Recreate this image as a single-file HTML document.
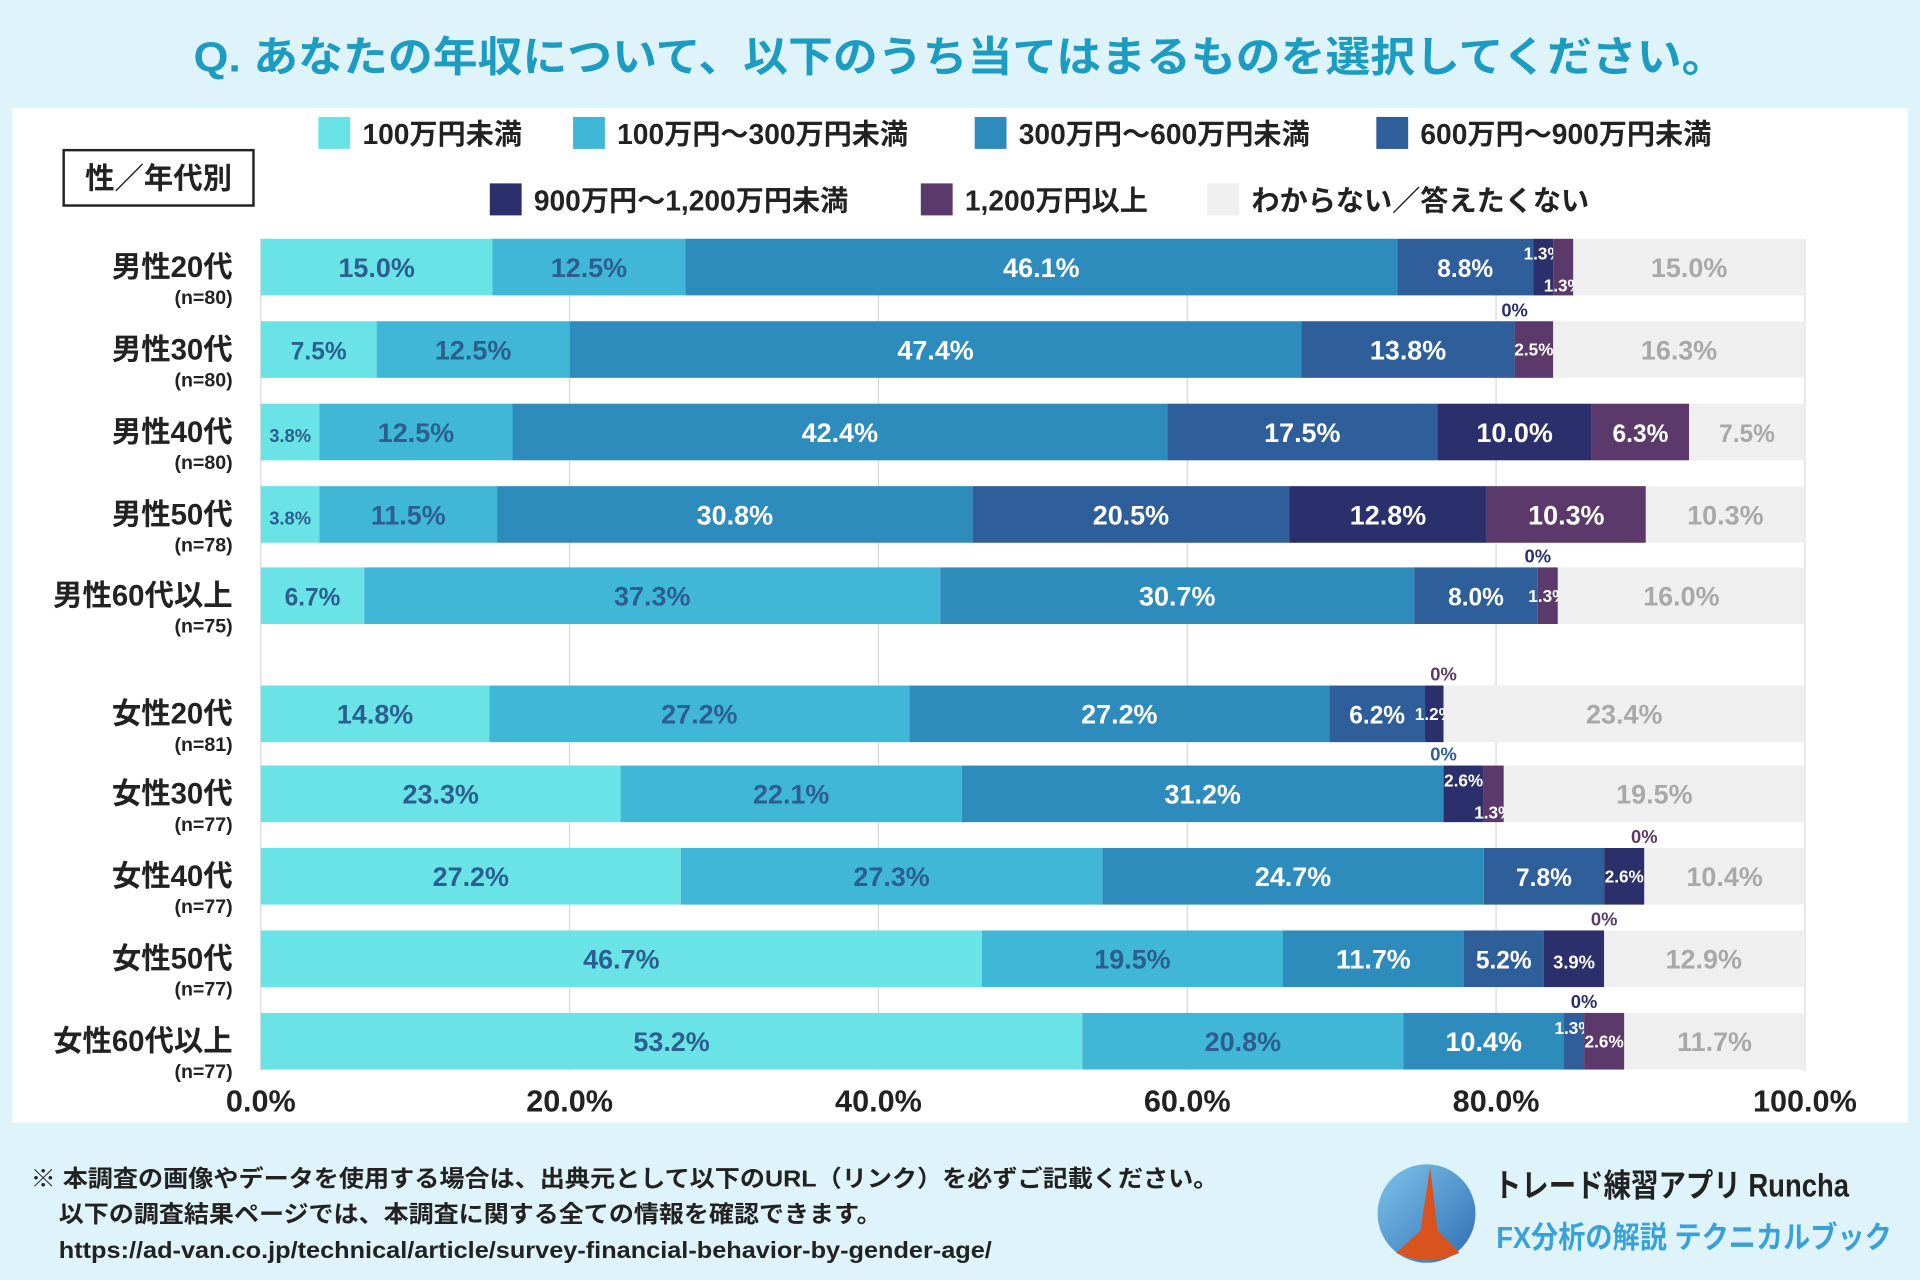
<!DOCTYPE html>
<html><head><meta charset="utf-8">
<style>
html,body{margin:0;padding:0;background:#dff4fa;}
svg{display:block;}
text{font-family:"Liberation Sans","Noto Sans CJK JP",sans-serif;}
</style></head>
<body>
<svg id="chart" width="1920" height="1280" viewBox="0 0 1568 1040" preserveAspectRatio="none" xmlns="http://www.w3.org/2000/svg">
<rect x="0" y="0" width="1568" height="1040" fill="#dff4fa"/>
<text x="158" y="58" textLength="1252" lengthAdjust="spacingAndGlyphs" font-size="34" font-weight="bold" fill="#1b9cc0">Q. あなたの年収について、以下のうち当てはまるものを選択してください。</text>
<rect x="10" y="88" width="1548" height="824" fill="#ffffff"/>
<g>
<rect x="52" y="122" width="155" height="45" fill="#fff" stroke="#222" stroke-width="2"/>
<text x="129.5" y="153" text-anchor="middle" font-size="24" font-weight="bold" fill="#222">性／年代別</text>
</g>
<g id="legend"></g>
<g id="grid"></g>
<g id="bars"></g>
<g id="cats"></g>
<g id="xticks"></g>
<g font-weight="bold" fill="#222">
<text x="25" y="964" font-size="19" textLength="970" lengthAdjust="spacingAndGlyphs">※ 本調査の画像やデータを使用する場合は、出典元として以下のURL（リンク）を必ずご記載ください。</text>
<text x="48" y="993" font-size="19" textLength="672" lengthAdjust="spacingAndGlyphs">以下の調査結果ページでは、本調査に関する全ての情報を確認できます。</text>
<text x="48" y="1022" font-size="19" textLength="762" lengthAdjust="spacingAndGlyphs">https://ad-van.co.jp/technical/article/survey-financial-behavior-by-gender-age/</text>
</g>
<g>
<defs><linearGradient id="lg" x1="0" y1="0" x2="1" y2="1"><stop offset="0" stop-color="#7ec3ea"/><stop offset="1" stop-color="#2e6fb4"/></linearGradient></defs>
<circle cx="1165" cy="986" r="40" fill="url(#lg)"/>
<path d="M1168 948 L1160 1000 L1140 1018 Q1165 1030 1192 1018 L1174 1000 Z" fill="#d9531e"/>
<text x="1220" y="972" font-size="26" font-weight="bold" fill="#222" textLength="290" lengthAdjust="spacingAndGlyphs">トレード練習アプリ Runcha</text>
<text x="1222" y="1014" font-size="25" font-weight="bold" fill="#3aa0d8" textLength="323" lengthAdjust="spacingAndGlyphs">FX分析の解説 テクニカルブック</text>
</g>
</svg>
<script>
const categories = ["男性20代","男性30代","男性40代","男性50代","男性60代以上","女性20代","女性30代","女性40代","女性50代","女性60代以上"];
const sampleSizes = ["(n=80)","(n=80)","(n=80)","(n=78)","(n=75)","(n=81)","(n=77)","(n=77)","(n=77)","(n=77)"];
const seriesNames = ["100万円未満","100万円～300万円未満","300万円～600万円未満","600万円～900万円未満","900万円～1,200万円未満","1,200万円以上","わからない／答えたくない"];
const s1 = [15.0,7.5,3.8,3.8,6.7,14.8,23.3,27.2,46.7,53.2];
const s2 = [12.5,12.5,12.5,11.5,37.3,27.2,22.1,27.3,19.5,20.8];
const s3 = [46.1,47.4,42.4,30.8,30.7,27.2,31.2,24.7,11.7,10.4];
const s4 = [8.8,13.8,17.5,20.5,8.0,6.2,0,7.8,5.2,1.3];
const s5 = [1.3,0,10.0,12.8,0,1.2,2.6,2.6,3.9,0];
const s6 = [1.3,2.5,6.3,10.3,1.3,0,1.3,0,0,2.6];
const s7 = [15.0,16.3,7.5,10.3,16.0,23.4,19.5,10.4,12.9,11.7];
const xTicks = [0,20,40,60,80,100];
const xTickLabels = ["0.0%","20.0%","40.0%","60.0%","80.0%","100.0%"];

const series = [s1,s2,s3,s4,s5,s6,s7];
const colors = ["#6ae3e6","#41b7d8","#2e8cbd","#2e5f9a","#2b2f6b","#5b3a6b","#efefef"];
const labelColors = ["#2a5f8f","#2a5f8f","#fff","#fff","#fff","#fff","#a8a8a8"];
const zeroColors = ["#2a5f8f","#2a5f8f","#2e8cbd","#2e5f9a","#2b2f6b","#5b3a6b","#888"];
const NS = "http://www.w3.org/2000/svg";
const X0 = 213, X1 = 1474;
const rowY = [217,284,351,418,484,580,645,712,779,846];
const barH = 46;
function xs(v){ return X0 + (X1 - X0) * v / 100; }
function mk(tag, attrs, parent){ const e = document.createElementNS(NS, tag); for (const k in attrs) e.setAttribute(k, attrs[k]); parent.appendChild(e); return e; }

const lg = document.getElementById('legend');
const legPos = [[260,108],[468,108],[796,108],[1124,108],[400,162],[752,162],[986,162]];
seriesNames.forEach((n,i)=>{
  const g = mk('g', {}, lg);
  
  
  mk('rect', {x:legPos[i][0], y:legPos[i][1]-13, width:26, height:26, fill:colors[i]}, g);
  const t = mk('text', {x:legPos[i][0]+36, y:legPos[i][1]+9, 'font-size':23, 'font-weight':'bold', fill:'#222'}, g);
  t.textContent = n;
});

const grid = document.getElementById('grid');
xTicks.forEach(v=>{
  const l = mk('line', {x1:xs(v), x2:xs(v), y1:194, y2:870, stroke:'#d8d8d8', 'stroke-width':1}, grid);
  
  
});

const xt = document.getElementById('xticks');
xTicks.forEach((v,i)=>{
  const t = mk('text', {x:xs(v), y:903, 'text-anchor':'middle', 'font-size':25, 'font-weight':'bold', fill:'#222'}, xt);
  
  
  t.textContent = xTickLabels[i];
});

const cg = document.getElementById('cats');
categories.forEach((c,r)=>{
  const t = mk('text', {x:190, y:rowY[r]+8, 'text-anchor':'end', 'font-size':24, 'font-weight':'bold', fill:'#222'}, cg);
  
  
  t.textContent = c;
  const n = mk('text', {x:190, y:rowY[r]+30, 'text-anchor':'end', 'font-size':16, 'font-weight':'bold', fill:'#222'}, cg);
  
  
  n.textContent = sampleSizes[r];
});

const bg = document.getElementById('bars');
categories.forEach((c,r)=>{
  let acc = 0;
  const y = rowY[r] - barH/2;
  let prevSmall = false;
  series.forEach((s,i)=>{
    const v = s[r];
    const x = xs(acc), w = xs(acc+v) - xs(acc);
    if (v > 0) {
      const rect = mk('rect', {x:x, y:y, width:w, height:barH, fill:colors[i]}, bg);
      
      
    }
    let fs = 22, ty = rowY[r] + 8, tx = x + w/2, fill = labelColors[i], fw = 'bold';
    if (v === 0) {
      fs = 15; ty = y - 4; fill = zeroColors[i];
      prevSmall = false;
    } else if (v < 3) {
      fs = 14;
      const next = series[i+1] ? series[i+1][r] : 99;
      const nextNZ = (next > 0 && next < 3) || (i+2 < 7 && next === 0 && series[i+2][r] > 0 && series[i+2][r] < 3);
      if (prevSmall) { ty = rowY[r] + 20; }
      else if (nextNZ) { ty = rowY[r] - 6; }
      else { ty = rowY[r] + 5; }
      prevSmall = true;
    } else {
      if (v < 5) fs = 15; else if (v < 9) fs = 20;
      prevSmall = false;
    }
    const t = mk('text', {x:tx, y:ty, 'text-anchor':'middle', 'font-size':fs, 'font-weight':fw, fill:fill}, bg);
    
    
    t.textContent = (v === 0 ? '0' : v.toFixed(1)) + '%';
    acc += v;
  });
});
</script>
</body></html>
